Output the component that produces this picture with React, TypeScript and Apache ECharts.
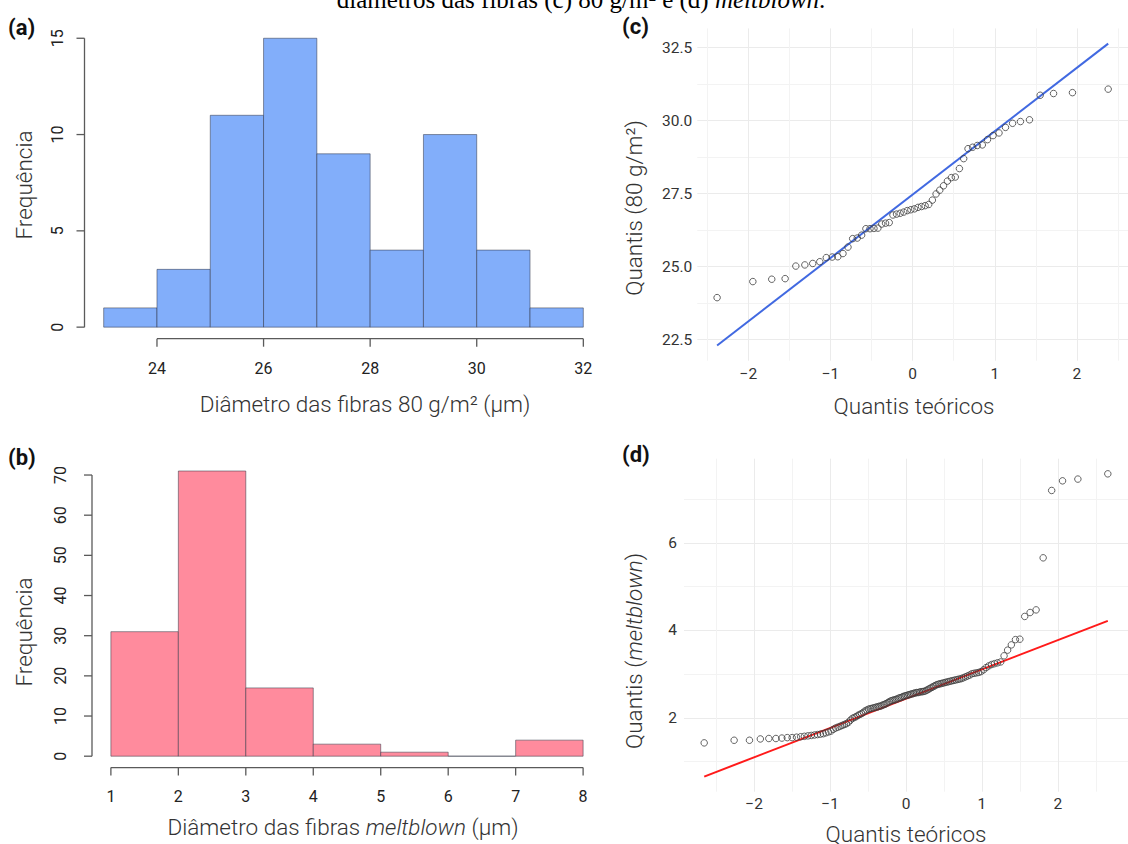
import React, { useEffect, useRef } from "react";
import * as echarts from "echarts";

// ---------- (a) histogram, 80 g/m² ----------
const histAEdges = [23, 24, 25, 26, 27, 28, 29, 30, 31, 32];
const histACounts = [1, 3, 11, 15, 9, 4, 10, 4, 1];
const histAXTicks = [24, 26, 28, 30, 32];
const histAYTicks = [0, 5, 10, 15];

// ---------- (b) histogram, meltblown ----------
const histBEdges = [1, 2, 3, 4, 5, 6, 7, 8];
const histBCounts = [31, 71, 17, 3, 1, 0, 4];
const histBXTicks = [1, 2, 3, 4, 5, 6, 7, 8];
const histBYTicks = [0, 10, 20, 30, 40, 50, 60, 70];

// ---------- (c) QQ plot, 80 g/m² ----------
const qqCTheo = [
  -2.38, -1.945, -1.715, -1.552, -1.422, -1.312, -1.216, -1.13, -1.051, -0.979,
  -0.911, -0.848, -0.787, -0.73, -0.674, -0.621, -0.569, -0.519, -0.471, -0.423,
  -0.376, -0.33, -0.285, -0.24, -0.196, -0.152, -0.108, -0.065, -0.022,
  0.022, 0.065, 0.108, 0.152, 0.196, 0.24, 0.285, 0.33, 0.376, 0.423,
  0.471, 0.519, 0.569, 0.621, 0.674, 0.73, 0.787, 0.848, 0.911, 0.979,
  1.051, 1.13, 1.216, 1.312, 1.422, 1.552, 1.715, 1.945, 2.38,
];
const qqCSample = [
  23.94, 24.49, 24.57, 24.59, 25.02, 25.06, 25.11, 25.17, 25.31, 25.33,
  25.34, 25.45, 25.67, 25.96, 25.98, 26.08, 26.3, 26.3, 26.31, 26.32,
  26.46, 26.49, 26.51, 26.77, 26.8, 26.83, 26.87, 26.92, 26.95, 26.98,
  27.03, 27.06, 27.09, 27.13, 27.28, 27.49, 27.62, 27.77, 27.93, 28.05,
  28.07, 28.36, 28.7, 29.04, 29.09, 29.15, 29.17, 29.35, 29.49, 29.58,
  29.77, 29.91, 29.97, 30.03, 30.87, 30.93, 30.96, 31.08,
];
const qqCLine = [
  [-2.38, 22.3],
  [2.38, 32.64],
];

// ---------- (d) QQ plot, meltblown ----------
const qqDTheo = [
  -2.657, -2.263, -2.061, -1.918, -1.806, -1.713, -1.634, -1.563, -1.499, -1.441,
  -1.387, -1.338, -1.291, -1.247, -1.205, -1.165, -1.127, -1.09, -1.055, -1.021,
  -0.988, -0.957, -0.926, -0.896, -0.867, -0.839, -0.811, -0.784, -0.757, -0.731,
  -0.706, -0.681, -0.656, -0.632, -0.608, -0.584, -0.561, -0.538, -0.515, -0.493,
  -0.471, -0.448, -0.427, -0.405, -0.384, -0.363, -0.342, -0.321, -0.3, -0.28,
  -0.26, -0.239, -0.219, -0.199, -0.179, -0.159, -0.139, -0.119, -0.099, -0.079,
  -0.059, -0.039, -0.02, 0,
  0.02, 0.039, 0.059, 0.079, 0.099, 0.119, 0.139, 0.159, 0.179, 0.199,
  0.219, 0.239, 0.26, 0.28, 0.3, 0.321, 0.342, 0.363, 0.384, 0.405,
  0.427, 0.448, 0.471, 0.493, 0.515, 0.538, 0.561, 0.584, 0.608, 0.632,
  0.656, 0.681, 0.706, 0.731, 0.757, 0.784, 0.811, 0.839, 0.867, 0.896,
  0.926, 0.957, 0.988, 1.021, 1.055, 1.09, 1.127, 1.165, 1.205, 1.247,
  1.291, 1.338, 1.387, 1.441, 1.499, 1.563, 1.634, 1.713, 1.806, 1.918,
  2.061, 2.263, 2.657,
];
const qqDSample = [
  1.43, 1.49, 1.49, 1.52, 1.53, 1.53, 1.54, 1.55, 1.55, 1.56,
  1.57, 1.58, 1.59, 1.6, 1.61, 1.62, 1.63, 1.64, 1.66, 1.68,
  1.7, 1.74, 1.77, 1.79, 1.81, 1.83, 1.85, 1.87, 1.9, 1.95,
  1.99, 2.01, 2.03, 2.06, 2.08, 2.1, 2.13, 2.16, 2.18, 2.2,
  2.21, 2.22, 2.23, 2.24, 2.25, 2.26, 2.27, 2.28, 2.3, 2.31,
  2.33, 2.35, 2.37, 2.39, 2.4, 2.41, 2.42, 2.43, 2.45, 2.46,
  2.47, 2.49, 2.5, 2.51, 2.52, 2.53, 2.54, 2.55, 2.56, 2.57,
  2.58, 2.58, 2.59, 2.6, 2.6, 2.61, 2.62, 2.64, 2.66, 2.68,
  2.7, 2.72, 2.74, 2.76, 2.77, 2.78, 2.79, 2.8, 2.81, 2.82,
  2.83, 2.84, 2.85, 2.86, 2.87, 2.88, 2.89, 2.9, 2.92, 2.94,
  2.96, 2.98, 3.01, 3.02, 3.03, 3.04, 3.06, 3.1, 3.15, 3.19,
  3.22, 3.24, 3.26, 3.28, 3.42, 3.55, 3.67, 3.79, 3.8, 4.32,
  4.41, 4.47, 5.66, 7.2, 7.42, 7.46, 7.58,
];
const qqDLine = [
  [-2.657, 0.66],
  [2.657, 4.22],
];

const FONT = "Roboto";
const TITLE_COLOR = "#333";
const TITLE_SIZE = 22.5;

function histData(edges: number[], counts: number[]) {
  return counts.map((c, i) => [edges[i], edges[i + 1], c]);
}

function barRenderer(fill: string) {
  return (params: any, api: any) => {
    const x0 = api.value(0);
    const x1 = api.value(1);
    const h = api.value(2);
    const tl = api.coord([x0, h]);
    const br = api.coord([x1, 0]);
    return {
      type: "rect",
      shape: { x: tl[0], y: tl[1], width: br[0] - tl[0], height: br[1] - tl[1] },
      style: { fill, stroke: "rgba(45,50,65,0.5)", lineWidth: 1 },
    };
  };
}

function baseAxesRenderer(xTicks: number[], yTicks: number[]) {
  return (params: any, api: any) => {
    const cs = params.coordSys;
    const left = cs.x;
    const bottom = cs.y + cs.height;
    const st = { stroke: "#5a5a5a", lineWidth: 1.3 };
    const tickLen = 8;
    const yOf = (v: number) => api.coord([xTicks[0], v])[1];
    const xOf = (v: number) => api.coord([v, yTicks[0]])[0];
    const children: any[] = [];
    children.push({
      type: "line",
      shape: { x1: left, y1: yOf(yTicks[0]), x2: left, y2: yOf(yTicks[yTicks.length - 1]) },
      style: st,
    });
    yTicks.forEach((v) =>
      children.push({ type: "line", shape: { x1: left - tickLen, y1: yOf(v), x2: left, y2: yOf(v) }, style: st })
    );
    children.push({
      type: "line",
      shape: { x1: xOf(xTicks[0]), y1: bottom, x2: xOf(xTicks[xTicks.length - 1]), y2: bottom },
      style: st,
    });
    xTicks.forEach((v) =>
      children.push({ type: "line", shape: { x1: xOf(v), y1: bottom, x2: xOf(v), y2: bottom + tickLen }, style: st })
    );
    return { type: "group", children };
  };
}

const baseLabel = (margin: number, rotate = 0) => ({
  show: true,
  margin,
  rotate,
  fontSize: 16,
  fontFamily: FONT,
  color: "#222",
  showMinLabel: false,
  showMaxLabel: false,
});

const ggLabel = (margin: number, fmt: (v: number) => string) => ({
  show: true,
  margin,
  fontSize: 15.5,
  fontFamily: FONT,
  color: "#333",
  showMinLabel: false,
  showMaxLabel: false,
  formatter: fmt,
});

const minusFmt = (v: number) => (v < 0 ? "\u2212" + Math.abs(v) : String(v));

const ggSplit = {
  show: true,
  showMinLine: false,
  showMaxLine: false,
  lineStyle: { color: "#EBEBEB", width: 1 },
};
const ggMinor = { show: true, lineStyle: { color: "#F3F3F3", width: 1 } };

function buildOption(): any {
  const titleText = (x: number, y: number, text: string, rich?: any, rotation = 0) => ({
    type: "text",
    x,
    y,
    rotation,
    style: {
      text,
      fill: TITLE_COLOR,
      font: `300 ${TITLE_SIZE}px ${FONT}`,
      textAlign: "center",
      textVerticalAlign: "middle",
      rich,
    },
  });
  const richTitle = {
    n: { fontFamily: FONT, fontWeight: 300, fontSize: TITLE_SIZE, fill: TITLE_COLOR },
    i: { fontFamily: FONT, fontWeight: 300, fontSize: TITLE_SIZE, fontStyle: "italic", fill: TITLE_COLOR },
  };
  const panelLabel = (x: number, y: number, text: string) => ({
    type: "text",
    x,
    y,
    style: { text, fill: "#111", font: `bold 22px ${FONT}`, textAlign: "left", textVerticalAlign: "middle" },
  });

  return {
    animation: false,
    backgroundColor: "#fff",
    grid: [
      { left: 84.5, top: 26.7, width: 518, height: 312 },
      { left: 92, top: 459.6, width: 510, height: 308 },
      { left: 697.3, top: 28.4, width: 437.7, height: 332.3 },
      { left: 684, top: 458.7, width: 445.5, height: 333 },
    ],
    xAxis: [
      {
        gridIndex: 0, type: "value", min: 22.64, max: 32.36, minInterval: 2, maxInterval: 2,
        axisLine: { show: false }, axisTick: { show: false }, splitLine: { show: false },
        axisLabel: baseLabel(22),
      },
      {
        gridIndex: 1, type: "value", min: 0.72, max: 8.28, minInterval: 1, maxInterval: 1,
        axisLine: { show: false }, axisTick: { show: false }, splitLine: { show: false },
        axisLabel: baseLabel(21),
      },
      {
        gridIndex: 2, type: "value", min: -2.621, max: 2.621, minInterval: 1, maxInterval: 1,
        axisLine: { show: false }, axisTick: { show: false },
        minorTick: { show: false, splitNumber: 2 },
        splitLine: ggSplit, minorSplitLine: ggMinor,
        axisLabel: ggLabel(5, minusFmt),
      },
      {
        gridIndex: 3, type: "value", min: -2.923, max: 2.923, minInterval: 1, maxInterval: 1,
        axisLine: { show: false }, axisTick: { show: false },
        minorTick: { show: false, splitNumber: 2 },
        splitLine: ggSplit, minorSplitLine: ggMinor,
        axisLabel: ggLabel(4, minusFmt),
      },
    ],
    yAxis: [
      {
        gridIndex: 0, type: "value", min: -0.6, max: 15.6, minInterval: 5, maxInterval: 5,
        axisLine: { show: false }, axisTick: { show: false }, splitLine: { show: false },
        axisLabel: baseLabel(19, 90),
      },
      {
        gridIndex: 1, type: "value", min: -2.84, max: 73.84, minInterval: 10, maxInterval: 10,
        axisLine: { show: false }, axisTick: { show: false }, splitLine: { show: false },
        axisLabel: baseLabel(24, 90),
      },
      {
        gridIndex: 2, type: "value", min: 21.78, max: 33.16, minInterval: 2.5, maxInterval: 2.5,
        axisLine: { show: false }, axisTick: { show: false },
        minorTick: { show: false, splitNumber: 2 },
        splitLine: ggSplit, minorSplitLine: ggMinor,
        axisLabel: ggLabel(5, (v: number) => v.toFixed(1)),
      },
      {
        gridIndex: 3, type: "value", min: 0.314, max: 7.926, minInterval: 2, maxInterval: 2,
        axisLine: { show: false }, axisTick: { show: false },
        minorTick: { show: false, splitNumber: 2 },
        splitLine: ggSplit, minorSplitLine: ggMinor,
        axisLabel: ggLabel(7, (v: number) => String(v)),
      },
    ],
    series: [
      {
        type: "custom", xAxisIndex: 0, yAxisIndex: 0, clip: false,
        data: histData(histAEdges, histACounts),
        renderItem: barRenderer("#82AEFA"),
      },
      {
        type: "custom", xAxisIndex: 0, yAxisIndex: 0, clip: false, silent: true,
        data: [[histAXTicks[0], histAYTicks[0]]],
        renderItem: baseAxesRenderer(histAXTicks, histAYTicks),
      },
      {
        type: "custom", xAxisIndex: 1, yAxisIndex: 1, clip: false,
        data: histData(histBEdges, histBCounts),
        renderItem: barRenderer("#FF8B9D"),
      },
      {
        type: "custom", xAxisIndex: 1, yAxisIndex: 1, clip: false, silent: true,
        data: [[histBXTicks[0], histBYTicks[0]]],
        renderItem: baseAxesRenderer(histBXTicks, histBYTicks),
      },
      {
        type: "line", xAxisIndex: 2, yAxisIndex: 2, data: qqCLine, showSymbol: false, symbol: "none",
        lineStyle: { color: "#4169E1", width: 2 }, z: 3,
      },
      {
        type: "scatter", xAxisIndex: 2, yAxisIndex: 2,
        data: qqCTheo.map((x, i) => [x, qqCSample[i]]),
        symbol: "circle", symbolSize: 6.5,
        itemStyle: { color: "rgba(0,0,0,0)", borderColor: "#3c3c3c", borderWidth: 1 }, z: 4,
      },
      {
        type: "line", xAxisIndex: 3, yAxisIndex: 3, data: qqDLine, showSymbol: false, symbol: "none",
        lineStyle: { color: "#FF1A1A", width: 2 }, z: 3,
      },
      {
        type: "scatter", xAxisIndex: 3, yAxisIndex: 3,
        data: qqDTheo.map((x, i) => [x, qqDSample[i]]),
        symbol: "circle", symbolSize: 6.5,
        itemStyle: { color: "rgba(0,0,0,0)", borderColor: "#3c3c3c", borderWidth: 1 }, z: 4,
      },
    ],
    graphic: [
      {
        type: "text",
        x: 581,
        y: 12,
        style: {
          text: "{n|diâmetros das fibras (c) 80 g/m² e (d) }{i|meltblown}{n|.}",
          textAlign: "center",
          textVerticalAlign: "bottom",
          fill: "#000",
          font: "25px 'Liberation Serif'",
          rich: {
            n: { fontFamily: "Liberation Serif", fontSize: 25, fill: "#000" },
            i: { fontFamily: "Liberation Serif", fontSize: 25, fontStyle: "italic", fill: "#000" },
          },
        },
      },
      panelLabel(8, 27, "(a)"),
      panelLabel(8, 457, "(b)"),
      panelLabel(622, 26, "(c)"),
      panelLabel(622, 454, "(d)"),
      titleText(24, 185, "Frequência", undefined, Math.PI / 2),
      titleText(365, 404, "Diâmetro das fibras 80 g/m² (µm)"),
      titleText(24, 632, "Frequência", undefined, Math.PI / 2),
      titleText(343, 827, "{n|Diâmetro das fibras }{i|meltblown}{n| (µm)}", richTitle),
      titleText(634, 208, "Quantis (80 g/m²)", undefined, Math.PI / 2),
      titleText(914, 406, "Quantis teóricos"),
      titleText(634, 651, "{n|Quantis (}{i|meltblown}{n|)}", richTitle, Math.PI / 2),
      titleText(906, 834, "Quantis teóricos"),
    ],
  };
}

export default function App() {
  const ref = useRef<HTMLDivElement>(null);
  useEffect(() => {
    if (!ref.current) return;
    const chart = echarts.init(ref.current, undefined, { renderer: "svg" });
    chart.setOption(buildOption());
    return () => chart.dispose();
  }, []);
  return (
    <div
      ref={ref}
      style={{ position: "fixed", left: 0, top: 0, width: 1128, height: 844, background: "#fff" }}
    />
  );
}
